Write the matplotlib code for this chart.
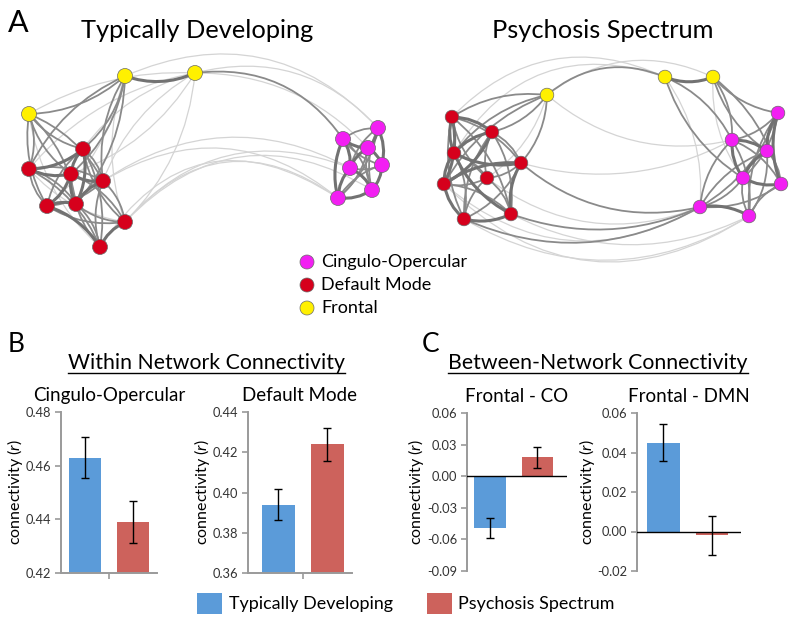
import matplotlib
matplotlib.use("Agg")
import matplotlib.pyplot as plt
from matplotlib.patches import Circle, Rectangle, FancyArrowPatch

plt.rcParams['font.family'] = ['Lato', 'DejaVu Sans']
plt.rcParams['mathtext.fontset'] = 'custom'
plt.rcParams['mathtext.it'] = 'Lato:italic'
plt.rcParams['mathtext.rm'] = 'Lato'

# ---- bar data ----
groups = ['Typically Developing', 'Psychosis Spectrum']
within_titles = ['Cingulo-Opercular', 'Default Mode']
within_means = [[0.463, 0.439], [0.394, 0.424]]
within_errs = [[0.0077, 0.0078], [0.0077, 0.0082]]
between_titles = ['Frontal - CO', 'Frontal - DMN']
between_means = [[-0.049, 0.018], [0.045, -0.002]]
between_errs = [[0.0095, 0.010], [0.0095, 0.010]]
bar_colors = ['#5b9bd9', '#cd625c']

# ---- network data (layout coords of the drawn graphs) ----
module_names = ['Cingulo-Opercular', 'Default Mode', 'Frontal']
module_colors = {'CO': '#f21ff2', 'DMN': '#d6001c', 'FP': '#fff000'}

td_x = [125, 195, 29, 83, 29, 71, 103, 47, 76, 125, 100, 343, 378, 368, 350, 382, 372, 338]
td_y = [76, 73, 114, 149, 169, 174, 181, 206, 204, 222, 247, 139, 128, 148, 168, 165, 190, 198]
td_mod = ['FP'] * 3 + ['DMN'] * 8 + ['CO'] * 7
td_edges = [
    (0, 1, 3), (2, 0, 2), (2, 1, 1),
    (2, 3, 2), (2, 4, 2), (2, 5, 2), (2, 6, 2), (2, 7, 2), (2, 8, 2), (2, 10, 1),
    (0, 3, 2), (0, 4, 2), (0, 5, 2), (0, 6, 2), (0, 8, 2), (0, 9, 1), (0, 7, 1),
    (1, 3, 1), (1, 5, 1), (1, 6, 1), (1, 9, 1), (1, 4, 1),
    (3, 4, 3), (3, 5, 3), (3, 6, 2), (3, 7, 2), (3, 8, 3), (3, 9, 2), (3, 10, 2),
    (4, 5, 3), (4, 6, 2), (4, 7, 2), (4, 8, 2), (4, 9, 1), (4, 10, 2),
    (5, 6, 3), (5, 7, 3), (5, 8, 3), (5, 9, 2), (5, 10, 2),
    (6, 7, 2), (6, 8, 3), (6, 9, 2), (6, 10, 2),
    (7, 8, 3), (7, 9, 2), (7, 10, 3), (8, 9, 2), (8, 10, 2), (9, 10, 3),
    (11, 12, 2), (11, 13, 3), (11, 14, 3), (11, 15, 2), (11, 16, 2), (11, 17, 3),
    (12, 13, 3), (12, 14, 2), (12, 15, 3), (12, 16, 2), (12, 17, 2),
    (13, 14, 3), (13, 15, 3), (13, 16, 2), (13, 17, 2),
    (14, 15, 2), (14, 16, 3), (14, 17, 3), (15, 16, 3), (15, 17, 2), (16, 17, 3),
    (1, 11, 2), (1, 12, 1), (0, 12, 1), (1, 13, 1),
    (9, 17, 1), (9, 14, 1), (9, 16, 1), (10, 17, 1), (6, 14, 1), (6, 17, 1),
]
td_bends = {(1, 11): -0.3, (1, 12): -0.3, (0, 12): -0.35, (1, 13): -0.22,
            (9, 17): -0.45, (9, 14): -0.35, (9, 16): -0.4, (10, 17): -0.5,
            (6, 14): -0.3, (6, 17): -0.35, (0, 1): 0.2, (2, 1): -0.15}

ps_x = [547, 665, 713, 452, 492, 454, 521, 487, 444, 464, 511, 778, 732, 767, 743, 781, 700, 749]
ps_y = [95, 77, 77, 117, 132, 153, 163, 178, 184, 219, 214, 113, 140, 151, 178, 184, 207, 216]
ps_mod = ['FP'] * 3 + ['DMN'] * 8 + ['CO'] * 7
ps_edges = [
    (1, 2, 3), (0, 1, 2), (0, 2, 1),
    (0, 3, 2), (0, 4, 2), (0, 5, 2), (0, 6, 2), (0, 8, 2), (0, 7, 1), (0, 12, 1),
    (1, 12, 2), (1, 14, 2), (1, 16, 1), (2, 11, 2), (2, 12, 2), (2, 13, 2), (2, 15, 2), (2, 14, 1),
    (3, 4, 3), (3, 5, 3), (3, 6, 2), (3, 7, 2), (3, 8, 3), (3, 9, 2), (3, 10, 2),
    (4, 5, 3), (4, 6, 2), (4, 7, 2), (4, 8, 3), (4, 9, 2), (4, 10, 2),
    (5, 6, 3), (5, 7, 2), (5, 8, 3), (5, 9, 2), (5, 10, 3),
    (6, 7, 2), (6, 8, 3), (6, 9, 2), (6, 10, 3),
    (7, 8, 2), (7, 9, 2), (7, 10, 2), (8, 9, 3), (8, 10, 2), (9, 10, 3),
    (11, 12, 2), (11, 13, 3), (11, 14, 2), (11, 15, 3), (11, 16, 2), (11, 17, 2),
    (12, 13, 3), (12, 14, 3), (12, 15, 2), (12, 16, 2), (12, 17, 2),
    (13, 14, 3), (13, 15, 2), (13, 16, 2), (13, 17, 2),
    (14, 15, 3), (14, 16, 2), (14, 17, 2), (15, 16, 2), (15, 17, 2), (16, 17, 3),
    (3, 1, 1), (5, 1, 1), (6, 16, 2), (10, 16, 2), (9, 16, 2), (7, 16, 1), (10, 17, 1),
    (9, 17, 1), (8, 16, 1), (6, 12, 1), (8, 17, 1),
]
ps_bends = {(0, 1): -0.3, (0, 2): -0.3, (0, 12): 0.25, (1, 2): 0.2,
            (3, 1): -0.35, (5, 1): -0.4,
            (6, 16): 0.25, (10, 16): 0.2, (9, 16): 0.25, (7, 16): 0.28, (10, 17): 0.25,
            (9, 17): 0.3, (8, 16): 0.35, (6, 12): 0.2, (8, 17): 0.4}

edge_style = {1: ('#d4d4d4', 0.9), 2: ('#8a8a8a', 1.3), 3: ('#727272', 2.2)}

W, H = 800, 623
fig = plt.figure(figsize=(8, 6.23), dpi=100)
net = fig.add_axes([0, 0, 1, 1])
net.set_xlim(0, W)
net.set_ylim(H, 0)
net.axis('off')


def draw_graph(xs, ys, mods, edges, bends, radius):
    for w in (1, 2, 3):
        color, lw = edge_style[w]
        for k, (i, j, ww) in enumerate(edges):
            if ww != w:
                continue
            if (i, j) in bends:
                rad = bends[(i, j)]
            else:
                rad = 0.18 if k % 2 else -0.18
            p = FancyArrowPatch((xs[i], ys[i]), (xs[j], ys[j]), arrowstyle='-',
                                connectionstyle=f'arc3,rad={rad}', color=color,
                                lw=lw, shrinkA=0, shrinkB=0, zorder=w)
            net.add_patch(p)
    for x, y, m in zip(xs, ys, mods):
        net.add_patch(Circle((x, y), radius, facecolor=module_colors[m],
                             edgecolor='#6a6a6a', lw=0.5, zorder=5))


draw_graph(td_x, td_y, td_mod, td_edges, td_bends, 7.5)
draw_graph(ps_x, ps_y, ps_mod, ps_edges, ps_bends, 6.8)

# panel texts
net.text(8, 32, 'A', fontsize=22, ha='left', va='baseline')
net.text(197, 38, 'Typically Developing', fontsize=18.3, ha='center', va='baseline')
net.text(603, 38, 'Psychosis Spectrum', fontsize=18.3, ha='center', va='baseline')
net.text(8, 352, 'B', fontsize=19, ha='left', va='baseline')
net.text(422, 352, 'C', fontsize=19, ha='left', va='baseline')
hdr1 = net.text(206, 369, 'Within Network Connectivity', fontsize=15.3, ha='center', va='baseline')
hdr2 = net.text(598, 369, 'Between-Network Connectivity', fontsize=15.3, ha='center', va='baseline')

# node legend
for k, m in enumerate(['CO', 'DMN', 'FP']):
    net.add_patch(Circle((307, 262 + 23 * k), 7, facecolor=module_colors[m],
                         edgecolor='#6a6a6a', lw=0.5, zorder=5))
    net.text(321, 262 + 23 * k, module_names[k], fontsize=13, va='center', ha='left')

# group legend
for k, (x0, tx) in enumerate([(197, 229), (427, 458)]):
    net.add_patch(Rectangle((x0, 593), 25, 21, facecolor=bar_colors[k], edgecolor='none'))
    net.text(tx, 604, groups[k], fontsize=12.9, va='center', ha='left')


def px_axes(l, t, r, b):
    return fig.add_axes([l / W, 1 - b / H, (r - l) / W, (b - t) / H])


def style_axes(ax, title, xlim, ylim, ticks, label_x, zero_line):
    ax.set_xlim(*xlim)
    ax.set_ylim(*ylim)
    ax.set_yticks(ticks)
    ax.set_yticklabels([f'{t:.2f}' if abs(t) > 1e-9 else '0.00' for t in ticks], fontsize=9.3, color='#333333')
    for s in ['top', 'right']:
        ax.spines[s].set_visible(False)
    ax.spines['left'].set_color('#9a9a9a')
    ax.spines['left'].set_linewidth(1.4)
    ax.tick_params(axis='y', direction='out', length=4, color='#9a9a9a', width=1.2, pad=3)
    if zero_line:
        ax.spines['bottom'].set_visible(False)
        ax.set_xticks([])
        ax.axhline(0, color='black', lw=1, zorder=3)
    else:
        ax.spines['bottom'].set_color('#9a9a9a')
        ax.spines['bottom'].set_linewidth(1.4)
        ax.set_xticks([0.5])
        ax.set_xticklabels([''])
        ax.tick_params(axis='x', direction='out', length=4, color='#9a9a9a', width=1.2)
    ax.set_title(title, fontsize=13.5, pad=8)
    ax.set_ylabel('connectivity ($\\it{r}$)', fontsize=11.5)
    ax.yaxis.set_label_coords(label_x, 0.5)
    ax.patch.set_alpha(0)


specs = [
    (within_titles[0], within_means[0], within_errs[0], (61, 412, 157, 573), (-0.5, 1.5), (0.42, 0.48), [0.42, 0.44, 0.46, 0.48], False),
    (within_titles[1], within_means[1], within_errs[1], (248, 412, 352, 573), (-0.62, 1.5), (0.36, 0.44), [0.36, 0.38, 0.40, 0.42, 0.44], False),
    (between_titles[0], between_means[0], between_errs[0], (467, 413, 567, 571), (-0.48, 1.62), (-0.09, 0.06), [-0.09, -0.06, -0.03, 0.0, 0.03, 0.06], True),
    (between_titles[1], between_means[1], between_errs[1], (637, 413, 741, 571), (-0.55, 1.61), (-0.02, 0.06), [-0.02, 0.0, 0.02, 0.04, 0.06], True),
]
# anchor of each rotated y label, in pixels
label_px = [25, 212, 426, 597]

for (title, means, errs, box, xl, yl, ticks, zl), lx in zip(specs, label_px):
    ax = px_axes(*box)
    ax.bar([0, 1], means, width=0.67, color=bar_colors, zorder=2)
    ax.errorbar([0, 1], means, yerr=errs, fmt='none', ecolor='black', elinewidth=1,
                capsize=3, capthick=1, zorder=4)
    style_axes(ax, title, xl, yl, ticks, (lx - box[0]) / (box[2] - box[0]), zl)

# underline the section headers
fig.canvas.draw()
inv = net.transData.inverted()
for t in (hdr1, hdr2):
    bb = t.get_window_extent()
    (x0, _), (x1, _) = inv.transform([(bb.x0, bb.y0), (bb.x1, bb.y0)])
    net.plot([x0, x1], [373, 373], color='black', lw=1)

fig.savefig('out.png', dpi=100)
